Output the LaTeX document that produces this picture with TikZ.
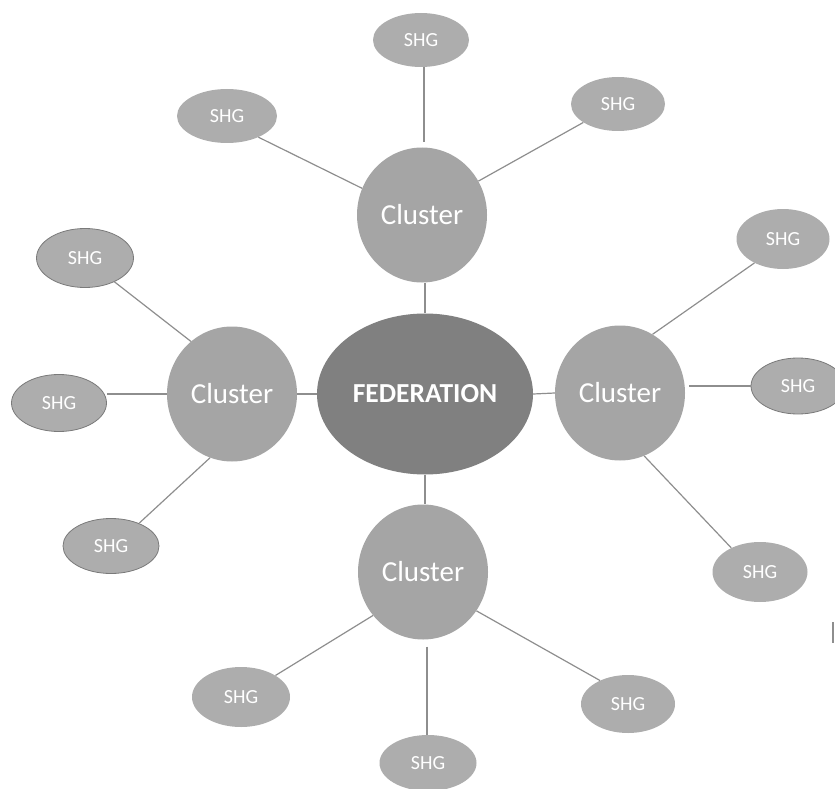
\documentclass[tikz,border=0pt]{standalone}
\usepackage{fontspec}
\setmainfont{Carlito}
\usetikzlibrary{shapes.geometric}
\definecolor{shgfill}{HTML}{ADADAD}
\definecolor{shgline}{HTML}{7A7A7A}
\definecolor{clfill}{HTML}{A5A5A5}
\definecolor{fedfill}{HTML}{808080}
\definecolor{linkc}{HTML}{8E8E8E}
\tikzset{
  shg/.style={ellipse, fill=shgfill, text=white, minimum width=96pt, minimum height=57pt, inner sep=0pt, font=\fontsize{20}{20}\selectfont},
  shgo/.style={shg, draw=shgline, line width=0.8pt},
  cluster/.style={ellipse, fill=clfill, text=white, minimum width=130pt, minimum height=135pt, inner sep=0pt, font=\fontsize{29}{29}\selectfont},
  fed/.style={ellipse, fill=fedfill, text=white, minimum width=216pt, minimum height=161pt, inner sep=0pt, font=\bfseries\fontsize{27.5}{27.5}\selectfont},
  link/.style={draw=linkc, line width=1.2pt}
}
\begin{document}
\begin{tikzpicture}[x=1pt,y=-1pt]
\useasboundingbox (0,0) rectangle (835,789);
% central
\node[fed] (f) at (425,394) {FEDERATION};
% clusters
\node[cluster] (c1) at (422,215) {Cluster};
\node[cluster] (c2) at (232,394) {Cluster};
\node[cluster] (c3) at (620,393) {Cluster};
\node[cluster] (c4) at (423,572) {Cluster};
% SHGs top
\node[shg, minimum height=54pt] (st) at (421,40) {SHG};
\node[shg, minimum width=100pt, minimum height=54pt] (sul) at (227,116) {SHG};
\node[shg, minimum width=94pt, minimum height=54pt] (sur) at (618,104) {SHG};
% SHGs left
\node[shgo, minimum width=97pt, minimum height=59pt] (sl1) at (85,258) {SHG};
\node[shgo, minimum width=95pt] (sl2) at (59,403) {SHG};
\node[shgo, minimum height=55pt] (sl3) at (111,546) {SHG};
% SHGs right
\node[shg, minimum width=93pt, minimum height=60pt] (sr1) at (783,239) {SHG};
\node[shgo, minimum width=94pt, minimum height=56pt] (sr2) at (798,386) {SHG};
\node[shg, minimum width=95pt, minimum height=60pt] (sr3) at (760,572) {SHG};
% SHGs bottom
\node[shg, minimum width=98pt, minimum height=60pt] (sb1) at (241,697) {SHG};
\node[shg, minimum width=97pt, minimum height=56pt] (sb2) at (428,763) {SHG};
\node[shg, minimum width=94pt, minimum height=58pt] (sb3) at (628,704) {SHG};
% federation links
\draw[link] (f.north) -- (f.north |- c1.south);
\draw[link] (c2.east) -- (f.west);
\draw[link] (f.east) -- (c3.west);
\draw[link] (f.south) -- (f.south |- c4.north);
% top cluster links
\draw[link, shorten >=5pt] (st.south) ++(3,0) coordinate (tB) -- (tB |- c1.north);
\draw[link] (c1.156) -- (sul.-34);
\draw[link] (c1.31) -- (sur.208);
% left cluster links
\draw[link] (c2.128) -- (sl1.-39);
\draw[link] (c2.west) -- (sl2.east |- c2.west);
\draw[link] (c2.251) -- (sl3.39);
% right cluster links
\draw[link] (c3.61) -- (sr1.220);
\draw[link, shorten <=4pt] (c3.east |- sr2.west) -- (sr2.west);
\draw[link] (c3.-69) -- (sr3.140);
% bottom cluster links
\draw[link] (c4.221) -- (sb1.32);
\draw[link, shorten <=7pt] (sb2.north |- c4.south) ++(-1,0) coordinate (bA) -- (bA |- sb2.north);
\draw[link] (c4.-36) -- (sb3.140);
% stray mark at right edge
\draw[draw=linkc, line width=1.5pt] (833,622) -- (833,643);
\end{tikzpicture}
\end{document}
